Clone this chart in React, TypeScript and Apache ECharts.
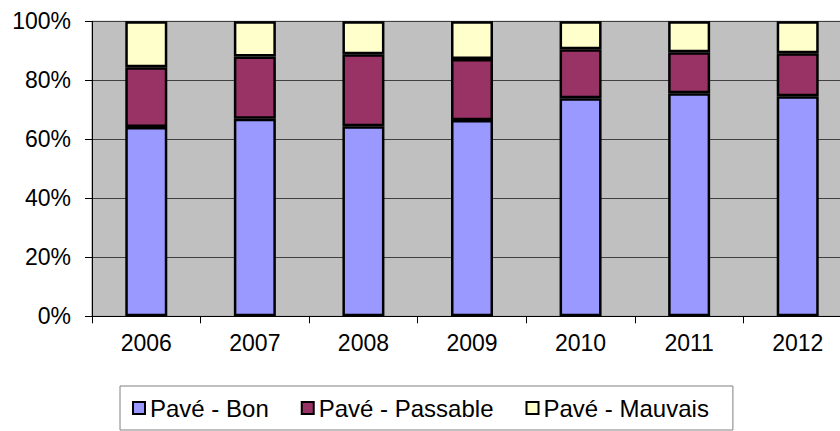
import React, { useEffect, useRef } from "react";
import * as echarts from "echarts";

const categories = ["2006", "2007", "2008", "2009", "2010", "2011", "2012"];
const seriesNames = ["Pavé - Bon", "Pavé - Passable", "Pavé - Mauvais"];
const bon = [64.2, 67.0, 64.4, 66.5, 73.9, 75.6, 74.6];
const passable = [20.2, 21.1, 24.4, 20.7, 16.6, 13.9, 14.6];
const mauvais = [15.6, 11.9, 11.2, 12.8, 9.5, 10.5, 10.8];
const colors = ["#9999FF", "#993366", "#FFFFCC"];

const FONT = "'Liberation Sans', Arial, sans-serif";

export default function App() {
  const ref = useRef<HTMLDivElement>(null);
  useEffect(() => {
    if (!ref.current) return;
    const chart = echarts.init(ref.current, null, { renderer: "svg" });
    const data = [bon, passable, mauvais];
    chart.setOption({
      animation: false,
      textStyle: { fontFamily: FONT },
      grid: {
        left: 92,
        right: -12,
        top: 21.3,
        bottom: 114.7,
        show: true,
        backgroundColor: "#C0C0C0",
        borderColor: "#808080",
        borderWidth: 1,
        outerBoundsMode: "none",
      },
      legend: {
        data: seriesNames,
        left: 120,
        top: 386,
        orient: "horizontal",
        padding: [10, 24, 10, 12],
        itemGap: 32,
        itemWidth: 12,
        itemHeight: 12,
        icon: "rect",
        borderColor: "#808080",
        borderWidth: 1,
        textStyle: { fontSize: 24, color: "#000", fontFamily: FONT },
      },
      xAxis: {
        type: "category",
        data: categories,
        axisLine: { lineStyle: { color: "#000", width: 1 } },
        axisTick: { show: true, length: 7, lineStyle: { color: "#000" } },
        axisLabel: { fontSize: 23, color: "#000", margin: 15, fontFamily: FONT },
      },
      yAxis: {
        type: "value",
        min: 0,
        max: 100,
        interval: 20,
        axisLine: { show: true, lineStyle: { color: "#000", width: 1 } },
        axisTick: { show: true, length: 7, lineStyle: { color: "#000" } },
        axisLabel: {
          fontSize: 23,
          color: "#000",
          margin: 21,
          fontFamily: FONT,
          formatter: (v: number) => v + "%",
        },
        splitLine: { show: true, lineStyle: { color: "#404040", width: 1 } },
      },
      series: seriesNames.map((name, i) => ({
        name,
        type: "bar",
        stack: "total",
        barWidth: 42,
        data: data[i],
        itemStyle: { color: colors[i], borderColor: "#000", borderWidth: 2.5 },
      })),
    });
    return () => chart.dispose();
  }, []);
  return <div ref={ref} style={{ width: 840, height: 431, position: "absolute", left: 0, top: 0 }} />;
}
